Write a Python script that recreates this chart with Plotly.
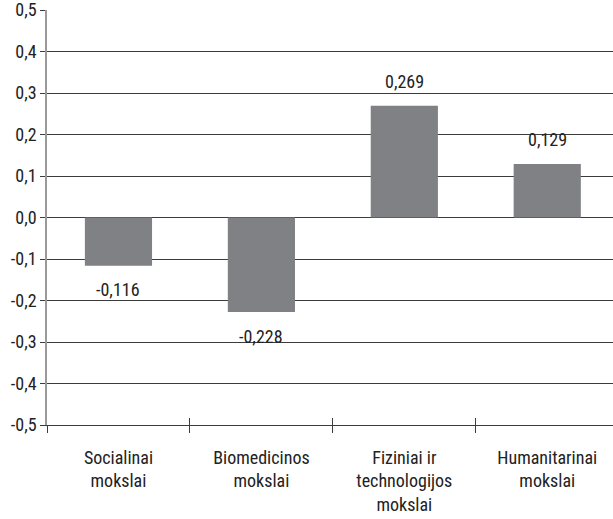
import plotly.graph_objects as go

# Data
categories = [
    "Socialinai<br>mokslai",
    "Biomedicinos<br>mokslai",
    "Fiziniai ir<br>technologijos<br>mokslai",
    "Humanitarinai<br>mokslai",
]
values = [-0.116, -0.228, 0.269, 0.129]
value_labels = ["-0,116", "-0,228", "0,269", "0,129"]
y_ticks = [0.5, 0.4, 0.3, 0.2, 0.1, 0.0, -0.1, -0.2, -0.3, -0.4, -0.5]
y_tick_labels = ["0,5", "0,4", "0,3", "0,2", "0,1", "0,0",
                 "-0,1", "-0,2", "-0,3", "-0,4", "-0,5"]

FONT = "Roboto Condensed, Liberation Sans Narrow, sans-serif"
FS = 18
BAR = "#808184"
GRID = "#3c3c3c"
TEXT = "#222222"
X_RANGE = [-0.5, 3.46]

fig = go.Figure()
fig.add_trace(go.Bar(
    x=categories, y=values,
    marker=dict(color=BAR, line=dict(width=0)),
    width=0.47,
    showlegend=False,
    hoverinfo="skip",
))
# Helper trace for the upward half of the category boundary ticks
fig.add_trace(go.Scatter(
    x=categories, y=values, xaxis="x2", mode="markers",
    marker=dict(opacity=0), showlegend=False, hoverinfo="skip",
))

# Value labels placed just outside the bar ends
for c, v, t in zip(categories, values, value_labels):
    fig.add_annotation(
        x=c, y=v, text=t, showarrow=False,
        yshift=24 if v > 0 else -24,
        font=dict(family=FONT, size=FS, color=TEXT),
    )

fig.update_layout(
    width=613, height=519,
    margin=dict(l=47, r=0, t=10, b=94),
    paper_bgcolor="white", plot_bgcolor="white",
    font=dict(family=FONT, size=FS, color=TEXT),
    bargap=0.53,
    xaxis2=dict(
        overlaying="x", matches="x", anchor="y", side="bottom",
        ticks="inside", ticklen=7, tickcolor=GRID, tickwidth=1,
        tickson="boundaries", showticklabels=False,
        showgrid=False, showline=False, zeroline=False, fixedrange=True,
    ),
)

fig.update_yaxes(
    range=[-0.5, 0.5],
    tickvals=y_ticks, ticktext=y_tick_labels,
    showgrid=True, gridcolor=GRID, gridwidth=1.3,
    zeroline=False,
    showline=True, linecolor="#9a9a9a", linewidth=1.5,
    ticks="outside", ticklen=5, tickcolor=GRID,
    ticklabeloverflow="allow",
    tickfont=dict(family=FONT, size=FS, color=TEXT),
    fixedrange=True,
)

fig.layout.xaxis.update(
    range=X_RANGE,
    showgrid=False,
    showline=True, linecolor=GRID, linewidth=1.3,
    ticks="outside", ticklen=7, tickcolor=GRID, tickwidth=1,
    tickson="boundaries",
    ticklabelstandoff=16,
    tickfont=dict(family=FONT, size=FS, color=TEXT),
    fixedrange=True,
)

fig.write_html("out.html")
